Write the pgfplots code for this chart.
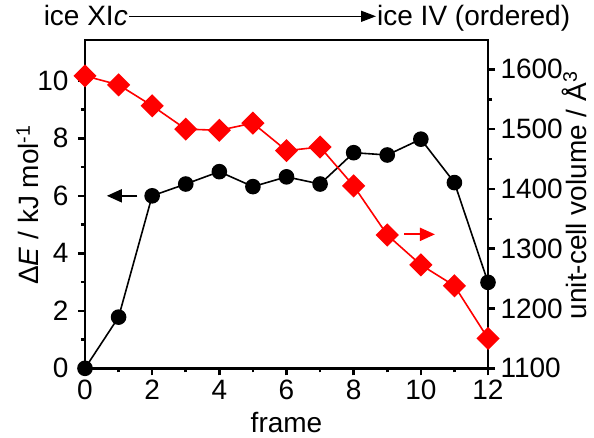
\documentclass[border=0pt]{standalone}
\usepackage{pgfplots}
\pgfplotsset{compat=1.18}
\usepackage{fontspec}
\setmainfont{Liberation Sans}
\usetikzlibrary{arrows.meta}

\newcommand{\bigfont}{\fontsize{28}{32}\selectfont}

\pgfplotsset{
  frameaxis/.style={
    at={(0,0)}, anchor=south west,
    scale only axis, width=403pt, height=328.3pt,
    xmin=0, xmax=12,
    tick align=outside,
    major tick length=7pt, minor tick length=4pt,
    axis line style={line width=2.6pt, line cap=rect},
    tick style={line width=2.6pt, black},
    tick label style={font=\bigfont},
    /pgf/number format/assume math mode=true,
    /pgf/number format/1000 sep={},
    clip=false,
  },
}

\begin{document}
\begin{tikzpicture}

% left axis: energy
\begin{axis}[frameaxis,
    ymin=0, ymax=11.42,
    axis x line*=bottom, axis y line*=left,
    xtick={0,2,...,12}, minor x tick num=1,
    ytick={0,2,...,10}, minor y tick num=1,
    xticklabel style={yshift=-1pt},
    yticklabel style={xshift=-6pt},
  ]
\addplot[black, line width=1.6pt, mark=*, mark size=7pt] coordinates {
  (0,0) (1,1.78) (2,6.00) (3,6.41) (4,6.84) (5,6.32) (6,6.66)
  (7,6.41) (8,7.50) (9,7.42) (10,7.97) (11,6.46) (12,2.99)
};
\draw[-{Triangle[length=15pt,width=13pt]}, line width=2pt] (axis cs:1.56,6) -- (axis cs:0.65,6);
\end{axis}

% right axis: unit-cell volume
\begin{axis}[frameaxis,
    ymin=1100, ymax=1649,
    axis y line*=right, axis x line*=top,
    xtick=\empty, minor xtick={0,1,...,12},
    every minor x tick/.style={line width=0.7pt, black},
    ytick={1100,1200,...,1600}, minor y tick num=1,
    yticklabel style={xshift=2pt},
  ]
\addplot[red, line width=1.6pt, mark=square*, mark size=7.4pt,
         mark options={rotate=45}] coordinates {
  (0,1589) (1,1574) (2,1539) (3,1500) (4,1498) (5,1510) (6,1464)
  (7,1470) (8,1405) (9,1323) (10,1273) (11,1238) (12,1150)
};
\draw[red, -{Triangle[length=15pt,width=13pt]}, line width=2pt] (axis cs:9.5,1324) -- (axis cs:10.42,1324);
\end{axis}

% labels
\node[font=\bigfont, anchor=base] at (201.5pt,-63.7pt) {frame};
\node[font=\bigfont, rotate=90, anchor=base, inner sep=0pt] at (-46pt,163.3pt) {Δ\textit{E} / kJ mol\textsuperscript{-1}};
\node[font=\bigfont, rotate=90, anchor=base, inner sep=0pt] at (501pt,173pt) {unit-cell volume / Å\textsuperscript{3}};

% top annotation
\node[font=\bigfont, anchor=base east, inner sep=1pt] at (44pt,342.3pt) {ice XI\textit{c}};
\node[font=\bigfont, anchor=base west, inner sep=1pt] at (291pt,342.3pt) {ice IV (ordered)};
\draw[-{Triangle[length=15pt,width=11pt]}, line width=1.5pt] (44pt,352pt) -- (291pt,352pt);

\pgfresetboundingbox
\path (-85pt,-68.7pt) rectangle (509pt,368.3pt);
\end{tikzpicture}
\end{document}
